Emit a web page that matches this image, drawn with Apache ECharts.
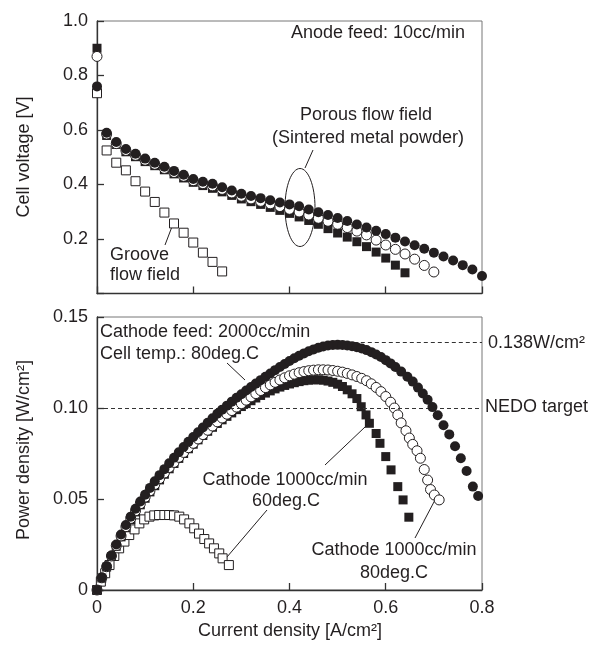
<!DOCTYPE html>
<html>
<head>
<meta charset="utf-8">
<script src="https://cdn.jsdelivr.net/npm/echarts@6/dist/echarts.min.js"></script>
<style>
html, body { margin: 0; padding: 0; background: #fff; }
#fuel_cell { width: 590px; height: 645px; }
</style>
</head>
<body>
<div id="fuel_cell"></div>
<script>
// ------------------------------
// Data
// ------------------------------

// Top panel: I-V curves, current density [A/cm2]
var ivCurrent = [0, 0.02, 0.04, 0.06, 0.08, 0.10, 0.12, 0.14, 0.16, 0.18, 0.20, 0.22, 0.24, 0.26, 0.28, 0.30,
    0.32, 0.34, 0.36, 0.38, 0.40, 0.42, 0.44, 0.46, 0.48, 0.50, 0.52, 0.54, 0.56, 0.58, 0.60, 0.62, 0.64,
    0.66, 0.68, 0.70, 0.72, 0.74, 0.76, 0.78, 0.80];

// Cathode 2000cc/min, 80deg.C (filled circles)
var vPorous2000 = [0.76, 0.59, 0.556, 0.53, 0.513, 0.495, 0.48, 0.465, 0.45, 0.436, 0.42, 0.41, 0.403, 0.39,
    0.378, 0.366, 0.358, 0.35, 0.342, 0.334, 0.327, 0.32, 0.308, 0.298, 0.288, 0.277, 0.266, 0.253, 0.242,
    0.23, 0.218, 0.205, 0.191, 0.177, 0.164, 0.15, 0.136, 0.121, 0.104, 0.088, 0.064];

// Cathode 1000cc/min, 80deg.C (open circles)
var vPorous1000h = [0.87, 0.585, 0.55, 0.525, 0.507, 0.489, 0.474, 0.459, 0.444, 0.43, 0.414, 0.403, 0.395,
    0.382, 0.369, 0.357, 0.347, 0.338, 0.329, 0.319, 0.309, 0.299, 0.288, 0.276, 0.265, 0.254, 0.242, 0.229,
    0.215, 0.196, 0.178, 0.162, 0.145, 0.126, 0.103, 0.079];

// Cathode 1000cc/min, 60deg.C (filled squares)
var vPorous1000l = [0.90, 0.58, 0.547, 0.52, 0.502, 0.484, 0.469, 0.454, 0.439, 0.424, 0.408, 0.396, 0.386,
    0.373, 0.36, 0.347, 0.337, 0.327, 0.316, 0.305, 0.294, 0.281, 0.268, 0.254, 0.238, 0.222, 0.207, 0.19,
    0.172, 0.152, 0.13, 0.104, 0.076];

// Groove flow field (open squares)
var grooveCurrent = [0, 0.02, 0.04, 0.06, 0.08, 0.10, 0.12, 0.14, 0.16, 0.18, 0.20, 0.22, 0.24, 0.26];
var vGroove = [0.735, 0.525, 0.48, 0.452, 0.412, 0.374, 0.336, 0.297, 0.257, 0.223, 0.187, 0.15, 0.116, 0.081];

// Bottom panel: power density curves
var pCurrent2000 = [0, 0.01, 0.02, 0.03, 0.04, 0.05, 0.06, 0.07, 0.08, 0.09, 0.10, 0.11, 0.12, 0.13, 0.14,
    0.15, 0.16, 0.17, 0.18, 0.19, 0.20, 0.21, 0.22, 0.23, 0.24, 0.25, 0.26, 0.27, 0.28, 0.29, 0.30, 0.31,
    0.32, 0.33, 0.34, 0.35, 0.36, 0.37, 0.38, 0.39, 0.40, 0.41, 0.42, 0.43, 0.44, 0.45, 0.46, 0.47, 0.48,
    0.49, 0.50, 0.51, 0.52, 0.53, 0.54, 0.55, 0.56, 0.57, 0.58, 0.59, 0.60, 0.61, 0.62, 0.632, 0.645, 0.656,
    0.667, 0.677, 0.687, 0.697, 0.708, 0.72, 0.732, 0.744, 0.756, 0.768, 0.781, 0.792];
var pPorous2000 = [0, 0.0068, 0.013, 0.019, 0.025, 0.0305, 0.0357, 0.0403, 0.0446, 0.0486, 0.0524, 0.0561,
    0.0597, 0.0631, 0.0664, 0.0696, 0.0727, 0.0757, 0.0786, 0.0814, 0.0841, 0.0867, 0.0893, 0.0919, 0.0944,
    0.0968, 0.0991, 0.1013, 0.1035, 0.1056, 0.1076, 0.1096, 0.1115, 0.1134, 0.1153, 0.1172, 0.119, 0.1208,
    0.1225, 0.1242, 0.1258, 0.1273, 0.1287, 0.13, 0.1312, 0.1322, 0.1331, 0.1338, 0.1343, 0.1346, 0.1347,
    0.1346, 0.1343, 0.1339, 0.1334, 0.1327, 0.1318, 0.1307, 0.1294, 0.128, 0.1263, 0.1245, 0.1225, 0.12,
    0.1172, 0.1145, 0.1112, 0.108, 0.1045, 0.1005, 0.096, 0.0905, 0.0855, 0.079, 0.0724, 0.0654, 0.0568, 0.0516];

var pCurrent1000h = [0, 0.01, 0.02, 0.03, 0.04, 0.05, 0.06, 0.07, 0.08, 0.09, 0.10, 0.11, 0.12, 0.13, 0.14,
    0.15, 0.16, 0.17, 0.18, 0.19, 0.20, 0.21, 0.22, 0.23, 0.24, 0.25, 0.26, 0.27, 0.28, 0.29, 0.30, 0.31,
    0.32, 0.33, 0.34, 0.35, 0.36, 0.37, 0.38, 0.39, 0.40, 0.41, 0.42, 0.43, 0.44, 0.45, 0.46, 0.47, 0.48,
    0.49, 0.50, 0.51, 0.52, 0.53, 0.54, 0.55, 0.56, 0.57, 0.58, 0.59, 0.60, 0.61, 0.618, 0.625, 0.632,
    0.642, 0.649, 0.656, 0.665, 0.672, 0.68, 0.687, 0.693, 0.701, 0.711];
var pPorous1000h = [0, 0.0067, 0.0128, 0.0187, 0.0244, 0.0297, 0.0348, 0.0393, 0.0435, 0.0474, 0.051, 0.0545,
    0.058, 0.0612, 0.0643, 0.0673, 0.0701, 0.0729, 0.0756, 0.0782, 0.0806, 0.083, 0.0854, 0.0878, 0.0901,
    0.0924, 0.0945, 0.0966, 0.0986, 0.1005, 0.1024, 0.1043, 0.1061, 0.1079, 0.1096, 0.1112, 0.1127, 0.1141,
    0.1154, 0.1166, 0.1177, 0.1186, 0.1194, 0.12, 0.1205, 0.1208, 0.121, 0.121, 0.1209, 0.1206, 0.1202,
    0.1197, 0.119, 0.1182, 0.1173, 0.1163, 0.115, 0.1133, 0.1113, 0.109, 0.1063, 0.1032, 0.1, 0.0962, 0.0918,
    0.0875, 0.0835, 0.08, 0.0765, 0.0724, 0.0662, 0.0604, 0.0552, 0.0522, 0.0495];

var pCurrent1000l = [0, 0.01, 0.02, 0.03, 0.04, 0.05, 0.06, 0.07, 0.08, 0.09, 0.10, 0.11, 0.12, 0.13, 0.14,
    0.15, 0.16, 0.17, 0.18, 0.19, 0.20, 0.21, 0.22, 0.23, 0.24, 0.25, 0.26, 0.27, 0.28, 0.29, 0.30, 0.31,
    0.32, 0.33, 0.34, 0.35, 0.36, 0.37, 0.38, 0.39, 0.40, 0.41, 0.42, 0.43, 0.44, 0.45, 0.46, 0.47, 0.48,
    0.49, 0.50, 0.51, 0.52, 0.53, 0.54, 0.549, 0.559, 0.566, 0.58, 0.588, 0.60, 0.611, 0.625, 0.636, 0.648];
var pPorous1000l = [0, 0.0066, 0.0126, 0.0184, 0.024, 0.0292, 0.0342, 0.0387, 0.0429, 0.0468, 0.0504, 0.0539,
    0.0573, 0.0605, 0.0636, 0.0666, 0.0695, 0.0723, 0.075, 0.0776, 0.0801, 0.0825, 0.0849, 0.0872, 0.0894,
    0.0915, 0.0935, 0.0954, 0.0973, 0.0991, 0.1008, 0.1024, 0.104, 0.1055, 0.1069, 0.1082, 0.1094, 0.1105,
    0.1115, 0.1124, 0.1132, 0.1139, 0.1145, 0.115, 0.1153, 0.1155, 0.1155, 0.1153, 0.1148, 0.1141, 0.1131,
    0.1118, 0.11, 0.1078, 0.1052, 0.1007, 0.0962, 0.0916, 0.086, 0.0806, 0.0733, 0.066, 0.0568, 0.0495, 0.04];

var pCurrentGroove = [0, 0.008, 0.017, 0.026, 0.036, 0.046, 0.057, 0.067, 0.078, 0.088, 0.098, 0.109, 0.119,
    0.129, 0.14, 0.15, 0.16, 0.171, 0.181, 0.192, 0.202, 0.212, 0.223, 0.233, 0.243, 0.254, 0.261, 0.274];
var pGroove = [0, 0.0046, 0.0092, 0.0137, 0.0187, 0.0229, 0.0266, 0.0302, 0.0333, 0.0366, 0.0388, 0.0403,
    0.041, 0.0412, 0.0412, 0.0412, 0.041, 0.0403, 0.0388, 0.0366, 0.0339, 0.031, 0.028, 0.0256, 0.0229,
    0.0201, 0.0174, 0.0137];

// Reference levels
var nedoTarget = 0.10;
var maxPower = 0.136;
var maxPowerCurrent = 0.49;

// Tick labels
var xTicks = ['0', '0.2', '0.4', '0.6', '0.8'];


// ------------------------------
// Chart
// ------------------------------

var fontFamily = '"Liberation Sans", Arial, sans-serif';
var ink = '#231f20';

function pairs(xs, ys) {
    return ys.map(function (y, i) { return [xs[i], y]; });
}

function markerSeries(grid, xs, ys, symbol, size, filled, z) {
    return {
        type: 'scatter',
        xAxisIndex: grid,
        yAxisIndex: grid,
        data: pairs(xs, ys),
        symbol: symbol,
        symbolSize: size,
        clip: false,
        z: z,
        itemStyle: {
            color: filled ? ink : '#fff',
            borderColor: ink,
            borderWidth: filled ? 0 : 1,
            opacity: 1
        }
    };
}

var chartElement = document.getElementById('fuel_cell');
var chart = echarts.init(chartElement, null, { renderer: 'canvas' });

var axisLine = { show: true, lineStyle: { color: '#333', width: 1.3 } };
var axisTick = { show: true, inside: true, length: 7, lineStyle: { color: '#333', width: 1.3 } };
var labelStyle = { color: ink, fontSize: 18, fontFamily: fontFamily };

function textItem(x, y, text, align) {
    return {
        type: 'text',
        x: x,
        y: y,
        style: {
            text: text,
            fill: ink,
            font: '18px ' + fontFamily,
            textAlign: align || 'left',
            textVerticalAlign: 'middle'
        }
    };
}

function leader(x1, y1, x2, y2) {
    return {
        type: 'line',
        shape: { x1: x1, y1: y1, x2: x2, y2: y2 },
        style: { stroke: ink, lineWidth: 1 }
    };
}

chart.setOption({
    animation: false,
    backgroundColor: '#fff',
    textStyle: { fontFamily: fontFamily, color: ink },

    grid: [
        { left: 97, top: 21, width: 385, height: 272.5, show: true, borderColor: '#777', borderWidth: 1 },
        { left: 97, top: 317, width: 385, height: 273, show: true, borderColor: '#777', borderWidth: 1 }
    ],

    xAxis: [
        {
            gridIndex: 0, type: 'value', min: 0, max: 0.8, interval: 0.2,
            axisLine: axisLine, axisTick: axisTick, splitLine: { show: false },
            axisLabel: { show: false }
        },
        {
            gridIndex: 1, type: 'value', min: 0, max: 0.8, interval: 0.2,
            axisLine: axisLine, axisTick: axisTick, splitLine: { show: false },
            axisLabel: Object.assign({ margin: 9, formatter: function (v) { return xTicks[Math.round(v / 0.2)]; } }, labelStyle)
        }
    ],

    yAxis: [
        {
            gridIndex: 0, type: 'value', min: 0, max: 1.0, interval: 0.2,
            axisLine: axisLine, axisTick: axisTick, splitLine: { show: false },
            axisLabel: Object.assign({ margin: 9, formatter: function (v) { return v === 0 ? '' : v.toFixed(1); } }, labelStyle)
        },
        {
            gridIndex: 1, type: 'value', min: 0, max: 0.15, interval: 0.05,
            axisLine: axisLine, axisTick: axisTick, splitLine: { show: false },
            axisLabel: Object.assign({ margin: 9, formatter: function (v) { return v === 0 ? '0' : v.toFixed(2); } }, labelStyle)
        }
    ],

    series: [
        // dashed reference lines
        {
            type: 'line',
            xAxisIndex: 1,
            yAxisIndex: 1,
            data: [],
            z: 1,
            markLine: {
                silent: true,
                symbol: 'none',
                label: { show: false },
                lineStyle: { color: '#333', width: 1, type: [4, 3] },
                data: [
                    [{ coord: [0, nedoTarget] }, { coord: [0.8, nedoTarget] }],
                    [{ coord: [maxPowerCurrent, maxPower] }, { coord: [0.8, maxPower] }]
                ]
            }
        },

        // top panel
        markerSeries(0, grooveCurrent, vGroove, 'rect', 9, false, 2),
        markerSeries(0, ivCurrent, vPorous1000l, 'rect', 9, true, 3),
        markerSeries(0, ivCurrent, vPorous1000h, 'circle', 10, false, 4),
        markerSeries(0, ivCurrent, vPorous2000, 'circle', 10, true, 5),

        // bottom panel
        markerSeries(1, pCurrentGroove, pGroove, 'rect', 9, false, 2),
        markerSeries(1, pCurrent1000l, pPorous1000l, 'rect', 9, true, 3),
        markerSeries(1, pCurrent1000h, pPorous1000h, 'circle', 10, false, 4),
        markerSeries(1, pCurrent2000, pPorous2000, 'circle', 10, true, 5)
    ],

    graphic: [
        // axis titles
        {
            type: 'text', x: 24, y: 157, rotation: Math.PI / 2,
            style: { text: 'Cell voltage [V]', fill: ink, font: '18px ' + fontFamily, textAlign: 'center', textVerticalAlign: 'middle' }
        },
        {
            type: 'text', x: 24, y: 450, rotation: Math.PI / 2,
            style: { text: 'Power density [W/cm²]', fill: ink, font: '18px ' + fontFamily, textAlign: 'center', textVerticalAlign: 'middle' }
        },
        textItem(290, 631, 'Current density [A/cm²]', 'center'),

        // top panel notes
        textItem(465, 33, 'Anode feed: 10cc/min', 'right'),
        textItem(366, 115, 'Porous flow field', 'center'),
        textItem(368, 138, '(Sintered metal powder)', 'center'),
        leader(313, 150, 305, 168),
        {
            type: 'ellipse',
            shape: { cx: 300, cy: 207.5, rx: 15, ry: 39 },
            style: { fill: 'none', stroke: ink, lineWidth: 1 }
        },
        textItem(110, 255, 'Groove'),
        textItem(110, 275, 'flow field'),
        leader(173, 224, 165, 245),

        // bottom panel notes
        textItem(100, 332, 'Cathode feed: 2000cc/min'),
        textItem(100, 354, 'Cell temp.: 80deg.C'),
        leader(227, 363, 245, 380),
        textItem(488, 343, '0.138W/cm²'),
        textItem(485, 407, 'NEDO target'),
        textItem(285, 480, 'Cathode 1000cc/min', 'center'),
        textItem(286, 501, '60deg.C', 'center'),
        leader(365, 427, 325, 465),
        leader(267, 510, 227, 557),
        textItem(394, 550, 'Cathode 1000cc/min', 'center'),
        textItem(394, 573, '80deg.C', 'center'),
        leader(435, 500, 415, 538)
    ]
});

window.addEventListener('resize', function () {
    chart.resize();
});
</script>
</body>
</html>
